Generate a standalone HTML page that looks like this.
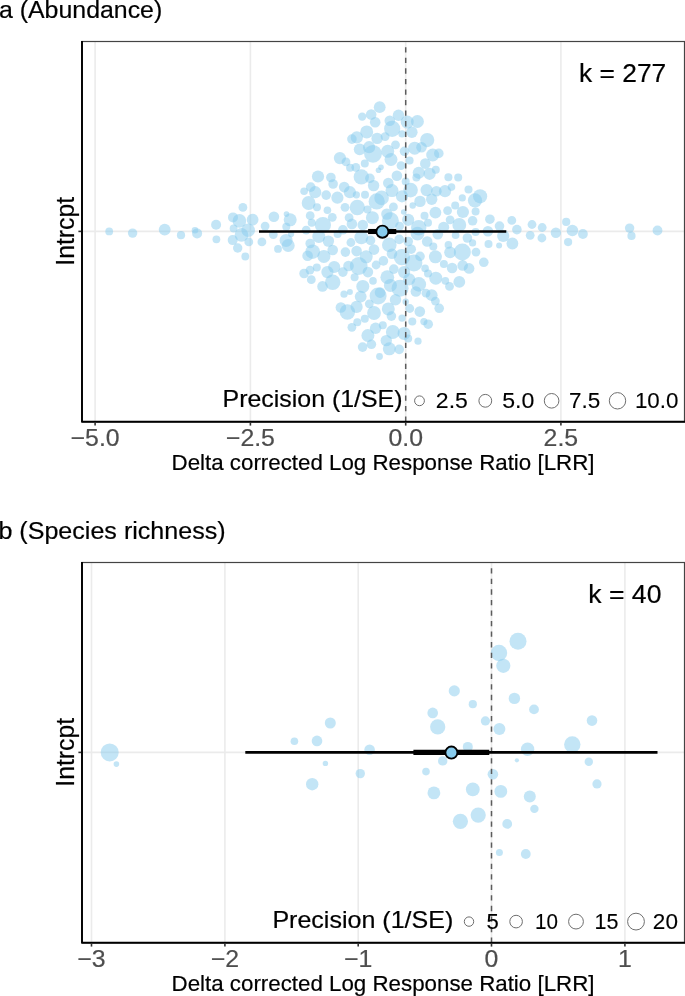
<!DOCTYPE html>
<html><head><meta charset="utf-8"><title>Orchard plots</title>
<style>html,body{margin:0;padding:0;background:#fff}svg{display:block}text{font-family:"Liberation Sans", Arial, Helvetica, sans-serif;stroke-width:.2px;paint-order:stroke fill}</style></head><body>
<svg width="685" height="996" viewBox="0 0 685 996">
<rect width="685" height="996" fill="#fff"/>
<line x1="95.1" y1="41.5" x2="95.1" y2="421.8" stroke="#ebebeb" stroke-width="1.6"/>
<line x1="250.4" y1="41.5" x2="250.4" y2="421.8" stroke="#ebebeb" stroke-width="1.6"/>
<line x1="405.7" y1="41.5" x2="405.7" y2="421.8" stroke="#ebebeb" stroke-width="1.6"/>
<line x1="560.9" y1="41.5" x2="560.9" y2="421.8" stroke="#ebebeb" stroke-width="1.6"/>
<line x1="82.0" y1="231.4" x2="684.5" y2="231.4" stroke="#ebebeb" stroke-width="1.6"/>
<g fill="#88ccee" fill-opacity="0.5">
<circle cx="379.7" cy="107.2" r="5.9"/>
<circle cx="362.2" cy="116.6" r="4.2"/>
<circle cx="371.2" cy="114.5" r="5.3"/>
<circle cx="375.2" cy="122.3" r="5.3"/>
<circle cx="398.5" cy="115.3" r="5.7"/>
<circle cx="389.8" cy="120.7" r="5.3"/>
<circle cx="392.2" cy="128.8" r="8.1"/>
<circle cx="366.7" cy="131.9" r="6.5"/>
<circle cx="356.8" cy="137.4" r="6.1"/>
<circle cx="351.9" cy="139.1" r="4.8"/>
<circle cx="377.1" cy="138.4" r="5.7"/>
<circle cx="385.1" cy="136.6" r="4.4"/>
<circle cx="395.5" cy="144.8" r="4.4"/>
<circle cx="359.7" cy="149.3" r="5.9"/>
<circle cx="369.1" cy="147.2" r="6.1"/>
<circle cx="373.0" cy="153.8" r="8.9"/>
<circle cx="387.7" cy="151.3" r="6.5"/>
<circle cx="391.0" cy="159.5" r="6.5"/>
<circle cx="339.9" cy="158.1" r="6.1"/>
<circle cx="346.0" cy="161.9" r="4.4"/>
<circle cx="350.1" cy="167.7" r="4.0"/>
<circle cx="355.8" cy="167.3" r="4.4"/>
<circle cx="364.8" cy="163.6" r="4.0"/>
<circle cx="381.0" cy="167.3" r="2.8"/>
<circle cx="378.5" cy="170.3" r="2.8"/>
<circle cx="361.3" cy="176.9" r="7.7"/>
<circle cx="369.9" cy="178.3" r="4.8"/>
<circle cx="373.6" cy="185.6" r="5.7"/>
<circle cx="396.9" cy="175.8" r="5.3"/>
<circle cx="388.3" cy="183.0" r="5.3"/>
<circle cx="392.0" cy="190.6" r="6.5"/>
<circle cx="318.0" cy="176.5" r="6.1"/>
<circle cx="330.9" cy="177.5" r="4.8"/>
<circle cx="333.1" cy="184.0" r="4.8"/>
<circle cx="310.7" cy="187.1" r="4.8"/>
<circle cx="304.1" cy="191.2" r="3.8"/>
<circle cx="315.2" cy="192.2" r="6.1"/>
<circle cx="326.2" cy="195.1" r="4.8"/>
<circle cx="337.4" cy="197.7" r="6.1"/>
<circle cx="344.2" cy="187.1" r="5.3"/>
<circle cx="349.9" cy="192.2" r="6.1"/>
<circle cx="356.4" cy="194.8" r="3.6"/>
<circle cx="365.0" cy="194.8" r="4.0"/>
<circle cx="376.7" cy="201.4" r="8.1"/>
<circle cx="381.6" cy="197.9" r="7.3"/>
<circle cx="308.6" cy="203.0" r="6.9"/>
<circle cx="317.0" cy="207.3" r="4.0"/>
<circle cx="327.4" cy="210.2" r="3.8"/>
<circle cx="310.2" cy="215.7" r="4.4"/>
<circle cx="311.7" cy="222.8" r="4.0"/>
<circle cx="345.0" cy="207.3" r="4.4"/>
<circle cx="357.3" cy="207.5" r="7.7"/>
<circle cx="367.5" cy="209.4" r="4.0"/>
<circle cx="372.4" cy="217.7" r="6.5"/>
<circle cx="393.4" cy="206.9" r="4.4"/>
<circle cx="386.9" cy="214.1" r="5.7"/>
<circle cx="390.4" cy="220.8" r="8.5"/>
<circle cx="332.3" cy="217.3" r="4.4"/>
<circle cx="349.1" cy="217.7" r="4.4"/>
<circle cx="351.9" cy="223.9" r="5.3"/>
<circle cx="286.5" cy="214.1" r="2.8"/>
<circle cx="290.2" cy="219.8" r="6.5"/>
<circle cx="417.4" cy="121.5" r="6.5"/>
<circle cx="407.2" cy="122.1" r="6.5"/>
<circle cx="411.9" cy="132.3" r="5.7"/>
<circle cx="402.0" cy="133.9" r="3.6"/>
<circle cx="427.2" cy="140.1" r="7.1"/>
<circle cx="421.5" cy="147.2" r="5.3"/>
<circle cx="414.7" cy="148.2" r="6.5"/>
<circle cx="404.5" cy="151.3" r="4.8"/>
<circle cx="432.7" cy="155.0" r="6.5"/>
<circle cx="438.8" cy="153.4" r="4.8"/>
<circle cx="409.6" cy="160.5" r="4.0"/>
<circle cx="425.3" cy="163.6" r="5.3"/>
<circle cx="401.0" cy="165.6" r="4.4"/>
<circle cx="435.8" cy="169.7" r="4.0"/>
<circle cx="418.8" cy="172.8" r="6.1"/>
<circle cx="416.4" cy="177.5" r="4.0"/>
<circle cx="429.6" cy="173.8" r="6.1"/>
<circle cx="448.4" cy="177.3" r="4.0"/>
<circle cx="458.2" cy="177.5" r="4.0"/>
<circle cx="405.7" cy="181.6" r="4.0"/>
<circle cx="410.6" cy="190.1" r="7.3"/>
<circle cx="426.6" cy="190.1" r="6.1"/>
<circle cx="436.4" cy="191.2" r="5.3"/>
<circle cx="445.0" cy="191.2" r="6.1"/>
<circle cx="451.5" cy="187.1" r="3.8"/>
<circle cx="468.5" cy="189.5" r="4.0"/>
<circle cx="480.1" cy="196.3" r="7.1"/>
<circle cx="475.0" cy="200.4" r="7.1"/>
<circle cx="462.3" cy="197.9" r="3.6"/>
<circle cx="402.0" cy="196.3" r="6.1"/>
<circle cx="420.0" cy="201.4" r="5.7"/>
<circle cx="431.7" cy="199.3" r="5.7"/>
<circle cx="412.7" cy="205.5" r="3.2"/>
<circle cx="455.2" cy="205.5" r="4.0"/>
<circle cx="403.7" cy="212.0" r="2.8"/>
<circle cx="435.4" cy="212.6" r="5.9"/>
<circle cx="447.6" cy="210.6" r="4.4"/>
<circle cx="462.9" cy="212.0" r="6.1"/>
<circle cx="475.6" cy="211.6" r="4.0"/>
<circle cx="424.5" cy="215.7" r="4.0"/>
<circle cx="408.2" cy="219.8" r="6.1"/>
<circle cx="428.0" cy="222.8" r="4.0"/>
<circle cx="450.1" cy="219.8" r="4.4"/>
<circle cx="459.3" cy="224.9" r="6.9"/>
<circle cx="472.6" cy="220.8" r="4.8"/>
<circle cx="489.9" cy="219.2" r="4.8"/>
<circle cx="511.8" cy="220.4" r="4.4"/>
<circle cx="532.0" cy="224.5" r="4.4"/>
<circle cx="322.9" cy="225.1" r="8.1"/>
<circle cx="306.2" cy="230.2" r="4.4"/>
<circle cx="362.8" cy="225.1" r="5.3"/>
<circle cx="342.9" cy="229.8" r="4.8"/>
<circle cx="337.6" cy="233.9" r="4.0"/>
<circle cx="361.3" cy="237.4" r="6.9"/>
<circle cx="399.6" cy="226.1" r="4.4"/>
<circle cx="286.1" cy="240.4" r="6.5"/>
<circle cx="288.2" cy="245.5" r="6.5"/>
<circle cx="318.8" cy="236.4" r="6.5"/>
<circle cx="328.4" cy="241.1" r="5.7"/>
<circle cx="310.2" cy="243.5" r="4.8"/>
<circle cx="312.7" cy="251.7" r="7.3"/>
<circle cx="307.6" cy="255.8" r="5.3"/>
<circle cx="323.9" cy="256.4" r="6.5"/>
<circle cx="332.7" cy="250.0" r="5.3"/>
<circle cx="345.4" cy="252.1" r="4.8"/>
<circle cx="350.9" cy="242.5" r="4.4"/>
<circle cx="356.6" cy="251.1" r="5.3"/>
<circle cx="366.2" cy="256.8" r="6.5"/>
<circle cx="370.5" cy="240.4" r="4.8"/>
<circle cx="374.0" cy="249.6" r="5.3"/>
<circle cx="389.3" cy="244.9" r="7.3"/>
<circle cx="392.0" cy="253.7" r="5.3"/>
<circle cx="399.2" cy="239.4" r="4.8"/>
<circle cx="383.4" cy="260.9" r="4.8"/>
<circle cx="376.1" cy="265.0" r="4.4"/>
<circle cx="358.7" cy="266.0" r="8.9"/>
<circle cx="348.5" cy="266.0" r="5.3"/>
<circle cx="342.9" cy="272.1" r="4.8"/>
<circle cx="334.2" cy="267.0" r="6.1"/>
<circle cx="327.4" cy="272.1" r="6.1"/>
<circle cx="316.8" cy="267.4" r="4.0"/>
<circle cx="310.0" cy="270.1" r="4.4"/>
<circle cx="304.1" cy="273.5" r="4.8"/>
<circle cx="311.3" cy="279.7" r="4.4"/>
<circle cx="332.7" cy="282.3" r="7.7"/>
<circle cx="322.5" cy="286.4" r="5.3"/>
<circle cx="354.6" cy="277.2" r="4.0"/>
<circle cx="367.9" cy="272.1" r="5.3"/>
<circle cx="373.0" cy="280.9" r="3.8"/>
<circle cx="362.8" cy="286.4" r="6.5"/>
<circle cx="387.3" cy="277.2" r="6.9"/>
<circle cx="393.8" cy="269.1" r="4.8"/>
<circle cx="390.4" cy="285.4" r="6.5"/>
<circle cx="344.0" cy="294.2" r="3.6"/>
<circle cx="349.9" cy="291.9" r="3.0"/>
<circle cx="360.7" cy="296.6" r="5.9"/>
<circle cx="378.1" cy="296.0" r="8.5"/>
<circle cx="380.1" cy="292.6" r="5.3"/>
<circle cx="395.5" cy="299.7" r="5.7"/>
<circle cx="369.3" cy="303.8" r="4.4"/>
<circle cx="356.6" cy="306.9" r="6.1"/>
<circle cx="340.9" cy="307.5" r="5.3"/>
<circle cx="347.4" cy="312.0" r="7.7"/>
<circle cx="374.0" cy="313.0" r="6.9"/>
<circle cx="388.3" cy="308.9" r="6.5"/>
<circle cx="391.4" cy="316.1" r="4.8"/>
<circle cx="364.8" cy="318.7" r="4.0"/>
<circle cx="357.3" cy="322.2" r="4.0"/>
<circle cx="351.9" cy="327.3" r="4.4"/>
<circle cx="382.8" cy="325.3" r="4.0"/>
<circle cx="375.6" cy="328.3" r="5.7"/>
<circle cx="392.8" cy="332.0" r="6.9"/>
<circle cx="367.9" cy="335.5" r="6.5"/>
<circle cx="386.3" cy="340.6" r="5.7"/>
<circle cx="371.4" cy="344.3" r="4.8"/>
<circle cx="362.6" cy="347.1" r="4.8"/>
<circle cx="389.3" cy="348.8" r="6.5"/>
<circle cx="399.2" cy="349.4" r="4.8"/>
<circle cx="379.5" cy="356.5" r="3.4"/>
<circle cx="418.7" cy="227.8" r="7.7"/>
<circle cx="417.5" cy="233.6" r="6.9"/>
<circle cx="443.7" cy="227.2" r="5.5"/>
<circle cx="499.5" cy="226.1" r="4.8"/>
<circle cx="516.9" cy="229.6" r="4.8"/>
<circle cx="487.9" cy="231.2" r="5.3"/>
<circle cx="475.6" cy="231.9" r="4.0"/>
<circle cx="437.8" cy="234.3" r="5.3"/>
<circle cx="455.6" cy="235.3" r="3.8"/>
<circle cx="467.4" cy="238.0" r="4.8"/>
<circle cx="503.2" cy="235.9" r="6.1"/>
<circle cx="530.2" cy="235.3" r="4.4"/>
<circle cx="408.2" cy="241.5" r="4.8"/>
<circle cx="427.2" cy="241.5" r="5.3"/>
<circle cx="433.3" cy="246.6" r="4.0"/>
<circle cx="448.4" cy="244.9" r="3.8"/>
<circle cx="472.6" cy="242.9" r="3.6"/>
<circle cx="488.5" cy="244.1" r="4.0"/>
<circle cx="499.1" cy="245.5" r="3.0"/>
<circle cx="512.4" cy="243.5" r="5.9"/>
<circle cx="411.2" cy="249.2" r="4.8"/>
<circle cx="462.3" cy="252.1" r="8.5"/>
<circle cx="450.1" cy="252.3" r="5.9"/>
<circle cx="476.0" cy="252.1" r="4.4"/>
<circle cx="435.4" cy="256.8" r="6.5"/>
<circle cx="420.0" cy="256.4" r="4.8"/>
<circle cx="413.9" cy="262.9" r="8.5"/>
<circle cx="401.9" cy="257.2" r="8.1"/>
<circle cx="443.9" cy="263.9" r="4.0"/>
<circle cx="452.1" cy="268.0" r="5.3"/>
<circle cx="462.7" cy="265.4" r="5.3"/>
<circle cx="469.1" cy="268.4" r="5.3"/>
<circle cx="483.8" cy="262.3" r="4.8"/>
<circle cx="425.1" cy="268.4" r="3.8"/>
<circle cx="428.0" cy="273.5" r="4.0"/>
<circle cx="404.1" cy="272.1" r="6.1"/>
<circle cx="435.8" cy="278.2" r="6.5"/>
<circle cx="445.4" cy="280.9" r="3.8"/>
<circle cx="449.5" cy="286.4" r="4.4"/>
<circle cx="459.3" cy="281.9" r="5.9"/>
<circle cx="409.2" cy="279.3" r="6.1"/>
<circle cx="418.8" cy="284.4" r="7.3"/>
<circle cx="400.1" cy="288.3" r="8.5"/>
<circle cx="415.9" cy="291.5" r="5.3"/>
<circle cx="426.0" cy="293.2" r="4.4"/>
<circle cx="431.7" cy="295.2" r="5.9"/>
<circle cx="435.4" cy="301.1" r="4.4"/>
<circle cx="439.2" cy="308.3" r="4.8"/>
<circle cx="405.7" cy="301.8" r="3.2"/>
<circle cx="409.8" cy="308.5" r="4.4"/>
<circle cx="419.8" cy="311.6" r="5.3"/>
<circle cx="402.0" cy="318.1" r="3.6"/>
<circle cx="412.3" cy="321.6" r="4.0"/>
<circle cx="423.9" cy="321.6" r="3.6"/>
<circle cx="428.2" cy="324.2" r="4.8"/>
<circle cx="404.1" cy="333.4" r="6.5"/>
<circle cx="408.2" cy="338.5" r="4.0"/>
<circle cx="418.0" cy="341.2" r="3.6"/>
<circle cx="109.2" cy="231.4" r="3.9"/>
<circle cx="132.6" cy="233.1" r="4.7"/>
<circle cx="164.7" cy="229.6" r="5.9"/>
<circle cx="181.0" cy="235.2" r="4.1"/>
<circle cx="195.0" cy="230.2" r="3.3"/>
<circle cx="197.1" cy="233.4" r="5.0"/>
<circle cx="216.1" cy="224.7" r="5.0"/>
<circle cx="216.4" cy="239.3" r="3.9"/>
<circle cx="233.0" cy="217.4" r="5.0"/>
<circle cx="242.9" cy="207.4" r="4.4"/>
<circle cx="239.4" cy="220.9" r="6.8"/>
<circle cx="252.6" cy="219.7" r="5.9"/>
<circle cx="233.6" cy="228.5" r="3.9"/>
<circle cx="248.2" cy="230.2" r="6.8"/>
<circle cx="241.5" cy="234.9" r="6.8"/>
<circle cx="232.7" cy="240.1" r="5.0"/>
<circle cx="248.8" cy="241.9" r="4.4"/>
<circle cx="237.7" cy="248.0" r="4.7"/>
<circle cx="245.3" cy="256.5" r="3.9"/>
<circle cx="265.1" cy="226.1" r="4.4"/>
<circle cx="273.9" cy="216.8" r="5.3"/>
<circle cx="261.9" cy="241.9" r="4.4"/>
<circle cx="273.3" cy="234.6" r="4.4"/>
<circle cx="278.0" cy="248.9" r="3.9"/>
<circle cx="555.9" cy="232.7" r="5.2"/>
<circle cx="566.2" cy="221.9" r="4.1"/>
<circle cx="572.4" cy="230.5" r="5.8"/>
<circle cx="568.1" cy="242.1" r="4.1"/>
<circle cx="582.9" cy="234.0" r="4.9"/>
<circle cx="629.6" cy="228.1" r="4.7"/>
<circle cx="631.5" cy="235.9" r="4.1"/>
<circle cx="657.5" cy="230.5" r="4.9"/>
<circle cx="286.3" cy="226.7" r="4.0"/>
<circle cx="291.1" cy="234.1" r="3.1"/>
<circle cx="542.2" cy="227.5" r="4.4"/>
<circle cx="541.9" cy="238.0" r="4.4"/>
</g>
<line x1="405.7" y1="421.8" x2="405.7" y2="41.5" stroke="#5c5c5c" stroke-width="1.5" stroke-dasharray="5.3 5.25"/>
<line x1="259" y1="231.5" x2="506.3" y2="231.5" stroke="#000" stroke-width="2.6"/>
<line x1="368.1" y1="231.5" x2="396.3" y2="231.5" stroke="#000" stroke-width="5.1"/>
<circle cx="382.4" cy="231.7" r="6.05" fill="#88ccee" stroke="#000" stroke-width="1.9"/>
<rect x="82.0" y="41.5" width="602.5" height="380.3" fill="none" stroke="#444" stroke-width="1.2"/>
<path d="M82.0 40.9V421.8H685.1" fill="none" stroke="#000" stroke-width="1.9" stroke-linejoin="round"/>
<line x1="95.1" y1="422.8" x2="95.1" y2="425.6" stroke="#333" stroke-width="1.6"/>
<line x1="250.4" y1="422.8" x2="250.4" y2="425.6" stroke="#333" stroke-width="1.6"/>
<line x1="405.7" y1="422.8" x2="405.7" y2="425.6" stroke="#333" stroke-width="1.6"/>
<line x1="560.9" y1="422.8" x2="560.9" y2="425.6" stroke="#333" stroke-width="1.6"/>
<line x1="78.4" y1="231.4" x2="81.0" y2="231.4" stroke="#333" stroke-width="1.6"/>
<text x="-1.05" y="18.10" font-size="24.20" fill="#000" stroke="#000" textLength="163.29" lengthAdjust="spacingAndGlyphs">a (Abundance)</text>
<text x="579.14" y="81.90" font-size="25.40" fill="#000" stroke="#000" textLength="87.08" lengthAdjust="spacingAndGlyphs">k = 277</text>
<text transform="translate(73.80 265.68) rotate(-90)" font-size="25.20" fill="#000" stroke="#000" textLength="68.85" lengthAdjust="spacingAndGlyphs">Intrcpt</text>
<text x="70.58" y="445.70" font-size="24.00" fill="#4d4d4d" stroke="#4d4d4d" textLength="49.04" lengthAdjust="spacingAndGlyphs">−5.0</text>
<text x="225.88" y="445.70" font-size="24.00" fill="#4d4d4d" stroke="#4d4d4d" textLength="49.04" lengthAdjust="spacingAndGlyphs">−2.5</text>
<text x="388.43" y="445.70" font-size="24.00" fill="#4d4d4d" stroke="#4d4d4d" textLength="34.53" lengthAdjust="spacingAndGlyphs">0.0</text>
<text x="543.63" y="445.70" font-size="24.00" fill="#4d4d4d" stroke="#4d4d4d" textLength="34.53" lengthAdjust="spacingAndGlyphs">2.5</text>
<text x="171.57" y="470.10" font-size="22.00" fill="#000" stroke="#000" textLength="422.91" lengthAdjust="spacingAndGlyphs">Delta corrected Log Response Ratio [LRR]</text>
<text x="222.56" y="407.20" font-size="23.80" fill="#000" stroke="#000" textLength="179.99" lengthAdjust="spacingAndGlyphs">Precision (1/SE)</text>
<circle cx="419.5" cy="400.8" r="4.90" fill="#fff" stroke="#6e6e6e" stroke-width="1"/>
<circle cx="485.3" cy="400.8" r="6.40" fill="#fff" stroke="#6e6e6e" stroke-width="1"/>
<circle cx="551.6" cy="400.8" r="7.30" fill="#fff" stroke="#6e6e6e" stroke-width="1"/>
<circle cx="617.5" cy="400.8" r="8.20" fill="#fff" stroke="#6e6e6e" stroke-width="1"/>
<text x="435.85" y="408.20" font-size="21.50" fill="#000" stroke="#000" textLength="32.01" lengthAdjust="spacingAndGlyphs" style="stroke-width:0.12px">2.5</text>
<text x="502.18" y="408.20" font-size="21.50" fill="#000" stroke="#000" textLength="32.12" lengthAdjust="spacingAndGlyphs" style="stroke-width:0.12px">5.0</text>
<text x="568.95" y="408.20" font-size="21.50" fill="#000" stroke="#000" textLength="31.29" lengthAdjust="spacingAndGlyphs" style="stroke-width:0.12px">7.5</text>
<text x="634.90" y="408.20" font-size="21.50" fill="#000" stroke="#000" textLength="43.46" lengthAdjust="spacingAndGlyphs" style="stroke-width:0.12px">10.0</text>
<line x1="91.5" y1="562.5" x2="91.5" y2="942.8" stroke="#ebebeb" stroke-width="1.6"/>
<line x1="224.9" y1="562.5" x2="224.9" y2="942.8" stroke="#ebebeb" stroke-width="1.6"/>
<line x1="358.2" y1="562.5" x2="358.2" y2="942.8" stroke="#ebebeb" stroke-width="1.6"/>
<line x1="491.5" y1="562.5" x2="491.5" y2="942.8" stroke="#ebebeb" stroke-width="1.6"/>
<line x1="624.9" y1="562.5" x2="624.9" y2="942.8" stroke="#ebebeb" stroke-width="1.6"/>
<line x1="82.0" y1="752.4" x2="684.5" y2="752.4" stroke="#ebebeb" stroke-width="1.6"/>
<g fill="#88ccee" fill-opacity="0.5">
<circle cx="109.7" cy="752.4" r="9.0"/>
<circle cx="116.4" cy="764.1" r="2.8"/>
<circle cx="294.4" cy="741.3" r="3.8"/>
<circle cx="317.0" cy="740.9" r="5.3"/>
<circle cx="312.2" cy="784.2" r="6.2"/>
<circle cx="325.4" cy="763.4" r="2.7"/>
<circle cx="330.3" cy="723.0" r="5.5"/>
<circle cx="369.6" cy="749.7" r="5.3"/>
<circle cx="360.3" cy="773.6" r="4.7"/>
<circle cx="454.3" cy="690.9" r="5.6"/>
<circle cx="472.8" cy="704.2" r="4.1"/>
<circle cx="432.7" cy="712.9" r="5.3"/>
<circle cx="437.7" cy="726.9" r="7.6"/>
<circle cx="467.8" cy="746.9" r="5.0"/>
<circle cx="442.7" cy="760.9" r="4.7"/>
<circle cx="426.0" cy="771.6" r="3.8"/>
<circle cx="433.9" cy="792.9" r="6.4"/>
<circle cx="472.8" cy="789.4" r="6.9"/>
<circle cx="460.4" cy="821.3" r="7.6"/>
<circle cx="478.2" cy="815.1" r="7.6"/>
<circle cx="518.0" cy="641.2" r="8.5"/>
<circle cx="499.0" cy="653.0" r="8.2"/>
<circle cx="503.3" cy="665.8" r="7.1"/>
<circle cx="514.4" cy="698.4" r="5.7"/>
<circle cx="534.0" cy="709.4" r="4.9"/>
<circle cx="485.4" cy="720.9" r="4.6"/>
<circle cx="592.0" cy="720.6" r="5.3"/>
<circle cx="499.4" cy="729.1" r="6.0"/>
<circle cx="527.6" cy="749.2" r="6.7"/>
<circle cx="572.3" cy="744.5" r="8.2"/>
<circle cx="516.9" cy="760.3" r="2.1"/>
<circle cx="588.8" cy="761.7" r="4.2"/>
<circle cx="492.9" cy="774.2" r="5.3"/>
<circle cx="597.0" cy="783.9" r="4.6"/>
<circle cx="500.8" cy="791.4" r="6.4"/>
<circle cx="529.8" cy="796.4" r="6.0"/>
<circle cx="534.4" cy="808.9" r="4.2"/>
<circle cx="507.2" cy="823.9" r="4.9"/>
<circle cx="499.4" cy="852.5" r="3.5"/>
<circle cx="525.8" cy="854.0" r="4.9"/>
</g>
<line x1="491.5" y1="942.8" x2="491.5" y2="562.5" stroke="#5c5c5c" stroke-width="1.5" stroke-dasharray="5.3 5.25"/>
<line x1="245.3" y1="752.4" x2="657.5" y2="752.4" stroke="#000" stroke-width="2.6"/>
<line x1="413.4" y1="752.4" x2="489.3" y2="752.4" stroke="#000" stroke-width="5.1"/>
<circle cx="451.4" cy="752.6" r="6.05" fill="#88ccee" stroke="#000" stroke-width="1.9"/>
<rect x="82.0" y="562.5" width="602.5" height="380.3" fill="none" stroke="#444" stroke-width="1.2"/>
<path d="M82.0 561.9V942.8H685.1" fill="none" stroke="#000" stroke-width="1.9" stroke-linejoin="round"/>
<line x1="91.5" y1="943.8" x2="91.5" y2="946.6" stroke="#333" stroke-width="1.6"/>
<line x1="224.9" y1="943.8" x2="224.9" y2="946.6" stroke="#333" stroke-width="1.6"/>
<line x1="358.2" y1="943.8" x2="358.2" y2="946.6" stroke="#333" stroke-width="1.6"/>
<line x1="491.5" y1="943.8" x2="491.5" y2="946.6" stroke="#333" stroke-width="1.6"/>
<line x1="624.9" y1="943.8" x2="624.9" y2="946.6" stroke="#333" stroke-width="1.6"/>
<line x1="78.4" y1="752.4" x2="81.0" y2="752.4" stroke="#333" stroke-width="1.6"/>
<text x="-1.61" y="539.10" font-size="24.20" fill="#000" stroke="#000" textLength="227.26" lengthAdjust="spacingAndGlyphs">b (Species richness)</text>
<text x="588.32" y="602.90" font-size="25.40" fill="#000" stroke="#000" textLength="73.10" lengthAdjust="spacingAndGlyphs">k = 40</text>
<text transform="translate(73.80 786.68) rotate(-90)" font-size="25.20" fill="#000" stroke="#000" textLength="68.85" lengthAdjust="spacingAndGlyphs">Intrcpt</text>
<text x="77.34" y="966.70" font-size="24.00" fill="#4d4d4d" stroke="#4d4d4d" textLength="28.32" lengthAdjust="spacingAndGlyphs">−3</text>
<text x="210.74" y="966.70" font-size="24.00" fill="#4d4d4d" stroke="#4d4d4d" textLength="28.32" lengthAdjust="spacingAndGlyphs">−2</text>
<text x="344.04" y="966.70" font-size="24.00" fill="#4d4d4d" stroke="#4d4d4d" textLength="28.32" lengthAdjust="spacingAndGlyphs">−1</text>
<text x="484.59" y="966.70" font-size="24.00" fill="#4d4d4d" stroke="#4d4d4d" textLength="13.81" lengthAdjust="spacingAndGlyphs">0</text>
<text x="617.99" y="966.70" font-size="24.00" fill="#4d4d4d" stroke="#4d4d4d" textLength="13.81" lengthAdjust="spacingAndGlyphs">1</text>
<text x="171.57" y="991.10" font-size="22.00" fill="#000" stroke="#000" textLength="422.91" lengthAdjust="spacingAndGlyphs">Delta corrected Log Response Ratio [LRR]</text>
<text x="272.40" y="928.20" font-size="23.80" fill="#000" stroke="#000" textLength="180.86" lengthAdjust="spacingAndGlyphs">Precision (1/SE)</text>
<circle cx="469.0" cy="921.6" r="4.70" fill="#fff" stroke="#6e6e6e" stroke-width="1"/>
<circle cx="516.1" cy="921.6" r="6.30" fill="#fff" stroke="#6e6e6e" stroke-width="1"/>
<circle cx="576.0" cy="921.6" r="7.40" fill="#fff" stroke="#6e6e6e" stroke-width="1"/>
<circle cx="636.0" cy="921.6" r="8.40" fill="#fff" stroke="#6e6e6e" stroke-width="1"/>
<text x="486.51" y="929.20" font-size="21.50" fill="#000" stroke="#000" textLength="12.31" lengthAdjust="spacingAndGlyphs" style="stroke-width:0.12px">5</text>
<text x="534.93" y="929.20" font-size="21.50" fill="#000" stroke="#000" textLength="22.97" lengthAdjust="spacingAndGlyphs" style="stroke-width:0.12px">10</text>
<text x="594.56" y="929.20" font-size="21.50" fill="#000" stroke="#000" textLength="23.94" lengthAdjust="spacingAndGlyphs" style="stroke-width:0.12px">15</text>
<text x="652.87" y="929.20" font-size="21.50" fill="#000" stroke="#000" textLength="25.10" lengthAdjust="spacingAndGlyphs" style="stroke-width:0.12px">20</text>
</svg></body></html>
